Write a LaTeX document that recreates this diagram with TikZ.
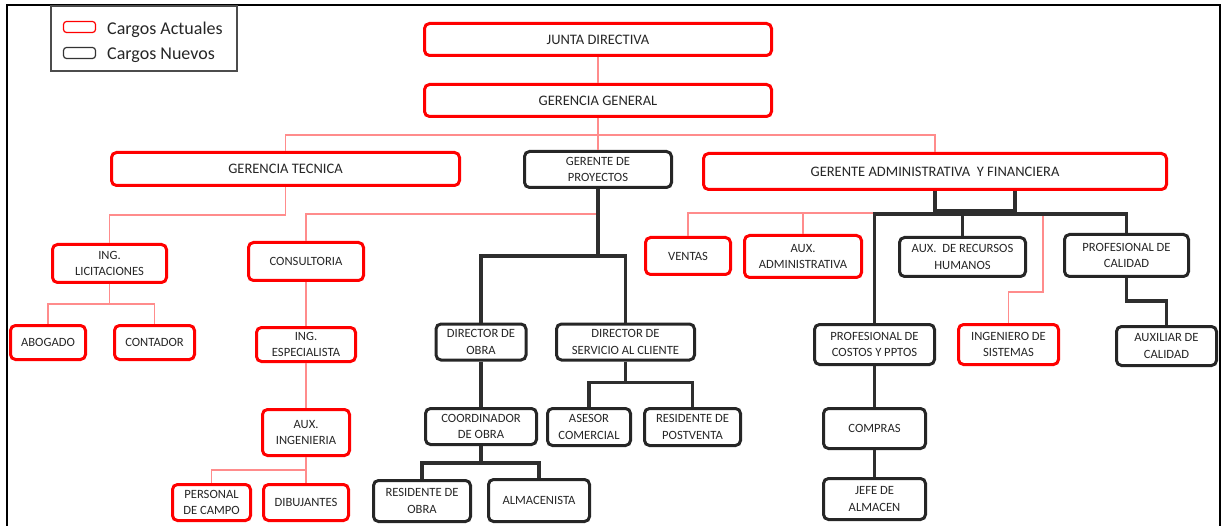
\documentclass[tikz,border=0pt]{standalone}
\usepackage{fontspec}
\setmainfont{Carlito}
\usepackage{tikz}

\begin{document}
\begin{tikzpicture}[x=1pt, y=-1pt,
  cargo/.style={draw, rounded corners=5, line width=3, inner sep=0, align=center, text=black!85, font=\fontsize{12.6}{16.5}\selectfont},
  actual/.style={cargo, draw=red},
  nuevo/.style={cargo, draw=black!85},
  grande/.style={font=\fontsize{14.5}{17}\selectfont},
  rline/.style={draw=red!45, line width=1.1},
  bline/.style={draw=black!82, line width=3.5}]
\useasboundingbox (0,0) rectangle (1225,526);
%marco
\draw[line width=2] (7,526) -- (7,5) -- (1220,5) -- (1220,526);
%leyenda
\node[draw=black!70, line width=1.2, minimum width=186, minimum height=65, inner sep=0] (leg) at (144,38.5) {};
\node[draw=red, rounded corners=3, line width=1.2, minimum width=32, minimum height=11, inner sep=0] (ls1) at (79.5,27) {};
\node[draw=black!80, rounded corners=3, line width=1.2, minimum width=32, minimum height=11, inner sep=0] (ls2) at (79.5,53) {};
\node[anchor=base west, inner sep=0, text=black!85, font=\fontsize{18}{20}\selectfont] (lt1) at (107,35) {Cargos Actuales};
\node[anchor=base west, inner sep=0, text=black!85, font=\fontsize{18}{20}\selectfont] (lt2) at (107,59.5) {Cargos Nuevos};
%nivel 1-2
\node[actual, grande, minimum width=347, minimum height=32] (jd) at (598,39.5) {JUNTA DIRECTIVA};
\node[actual, grande, minimum width=347, minimum height=32] (gg) at (598,100.5) {GERENCIA GENERAL};
\node[actual, grande, minimum width=348, minimum height=33] (gt) at (285.5,169) {GERENCIA TECNICA};
\node[nuevo, minimum width=147, minimum height=36] (gp) at (598,169.5) {GERENTE DE\\PROYECTOS};
\node[actual, grande, minimum width=463, minimum height=36] (ga) at (935,171.5) {GERENTE ADMINISTRATIVA~ Y FINANCIERA};
%gerencia tecnica
\node[actual, minimum width=114, minimum height=38] (il) at (109.5,263.5) {ING.\\LICITACIONES};
\node[actual, minimum width=115, minimum height=38] (cons) at (306,261.5) {CONSULTORIA};
\node[actual, minimum width=75, minimum height=34] (ab) at (48,342.5) {ABOGADO};
\node[actual, minimum width=80, minimum height=34] (ct) at (154.5,342.5) {CONTADOR};
\node[actual, minimum width=99, minimum height=34] (ie) at (306,344.5) {ING.\\ESPECIALISTA};
\node[actual, minimum width=87, minimum height=46] (ai) at (306,432.5) {AUX.\\INGENIERIA};
\node[actual, minimum width=78, minimum height=36] (pcam) at (211.5,502.5) {PERSONAL\\DE CAMPO};
\node[actual, minimum width=85, minimum height=36] (dib) at (306,502.5) {DIBUJANTES};
%proyectos
\node[nuevo, minimum width=90, minimum height=36] (dob) at (481,342) {DIRECTOR DE\\OBRA};
\node[nuevo, minimum width=138, minimum height=36] (dsc) at (625.5,342) {DIRECTOR DE\\SERVICIO AL CLIENTE};
\node[nuevo, minimum width=111, minimum height=36] (cob) at (481,426.5) {COORDINADOR\\DE OBRA};
\node[nuevo, minimum width=83, minimum height=37] (ase) at (589,427) {ASESOR\\COMERCIAL};
\node[nuevo, minimum width=96, minimum height=37] (rpv) at (692.5,427) {RESIDENTE DE\\POSTVENTA};
\node[nuevo, minimum width=97, minimum height=41] (rob) at (422,501) {RESIDENTE DE\\OBRA};
\node[nuevo, minimum width=101, minimum height=42] (alm) at (539,500.5) {ALMACENISTA};
%administrativa
\node[actual, minimum width=85, minimum height=37] (ven) at (688,256) {VENTAS};
\node[actual, minimum width=117, minimum height=42] (aa) at (803,256.5) {AUX.\\ADMINISTRATIVA};
\node[nuevo, minimum width=126, minimum height=39] (rh) at (962.5,257) {AUX.~ DE RECURSOS\\HUMANOS};
\node[nuevo, minimum width=124, minimum height=42] (pcal) at (1126.5,255.5) {PROFESIONAL DE\\CALIDAD};
\node[nuevo, minimum width=120, minimum height=40] (pcos) at (874.5,344.5) {PROFESIONAL DE\\COSTOS Y PPTOS};
\node[actual, minimum width=100, minimum height=40] (isis) at (1008.5,344.5) {INGENIERO DE\\SISTEMAS};
\node[nuevo, minimum width=100, minimum height=39] (acal) at (1166.5,346) {AUXILIAR DE\\CALIDAD};
\node[nuevo, minimum width=102, minimum height=40] (comp) at (874.5,428.5) {COMPRAS};
\node[nuevo, minimum width=102, minimum height=41] (ja) at (874.5,499) {JEFE DE\\ALMACEN};
%lineas cargos actuales
\draw[rline] (jd) -- (gg);
\draw[rline] (gg) -- (gp);
\draw[rline] (gg.south) -- ++(0,17) -| (gt.north);
\draw[rline] (gg.south) -- ++(0,17) -| (ga.north);
\draw[rline] (gt.south) -- ++(0,28) -| (il.north);
\draw[rline] (gp.south) -- ++(0,25) -| (cons.north);
\draw[rline] (il.south) -- ++(0,20) -| (ab.north);
\draw[rline] (il.south) -- ++(0,20) -| (ct.north);
\draw[rline] (cons) -- (ie);
\draw[rline] (ie) -- (ai);
\draw[rline] (ai.south) -- ++(0,13) -| (pcam.north);
\draw[rline] (ai) -- (dib);
\draw[rline] (ga.south) -- ++(0,22) -| (ven.north);
\draw[rline] (ga.south) -- ++(0,22) -| (aa.north);
\draw[rline] (ga.south) -- ++(0,22) -- ++(108,0) -- ++(0,79) -| (isis.north);
%lineas cargos nuevos
\draw[bline] (gp.south) -- ++(0,67) -| (dob.north);
\draw[bline] (gp.south) -- ++(0,67) -| (dsc.north);
\draw[bline] (dob) -- (cob);
\draw[bline] (dsc.south) -- ++(0,21) -| (ase.north);
\draw[bline] (dsc.south) -- ++(0,21) -| (rpv.north);
\draw[bline] (cob.south) -- ++(0,17) -| (rob.north);
\draw[bline] (cob.south) -- ++(0,17) -| (alm.north);
\draw[bline] (ga.south) -- ++(0,22);
\draw[bline] ([xshift=80]ga.south) -- ++(0,23);
\draw[bline, line width=5] (ga.south) ++(0,21) -- ++(80,0);
\draw[bline] (pcos.north) -- ++(0,-109) -| (pcal.north);
\draw[bline] (rh.north) -- ++(0,-22);
\draw[bline] (pcos) -- (comp);
\draw[bline] (comp) -- (ja);
\draw[bline] (pcal.south) -- ++(0,23) -| (acal.north);
\end{tikzpicture}
\end{document}
